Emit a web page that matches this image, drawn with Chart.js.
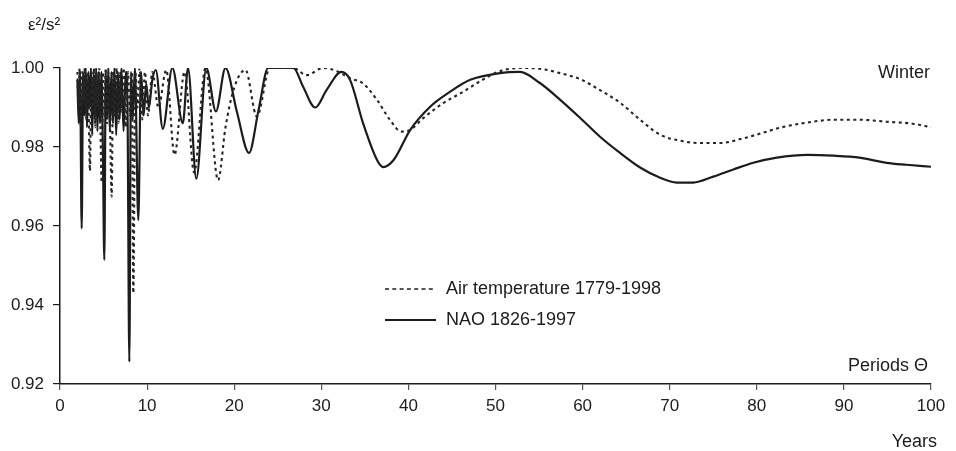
<!DOCTYPE html>
<html>
<head>
<meta charset="utf-8">
<script src="https://cdn.jsdelivr.net/npm/chart.js@4/dist/chart.umd.min.js"></script>
<style>
  html, body { margin: 0; padding: 0; background: #ffffff; }
  #wrap { width: 956px; height: 451px; }
</style>
</head>
<body>
<div id="wrap"><canvas id="c" width="956" height="451"></canvas></div>
<script>
// ---- Data ----
const xTicks = [0, 10, 20, 30, 40, 50, 60, 70, 80, 90, 100];
const yTicks = [0.92, 0.94, 0.96, 0.98, 1.00];

const naoLabel = "NAO 1826-1997";
const naoPeriods = [
  2.0, 2.15, 2.3, 2.49, 2.65, 2.8, 2.95, 3.1, 3.25, 3.4,
  3.55, 3.7, 3.85, 4.0, 4.15, 4.3, 4.45, 4.6, 4.75, 4.92,
  5.09, 5.25, 5.4, 5.55, 5.72, 5.9, 6.08, 6.25, 6.45, 6.65,
  6.85, 7.05, 7.3, 7.55, 7.75, 7.96, 8.15, 8.35, 8.6, 8.99,
  9.3, 9.6, 9.9, 10.2, 10.6, 11.0, 11.8, 12.9, 14.1, 14.7,
  15.65, 16.8, 17.9, 19.0, 20.3, 21.7, 22.8, 23.9, 25.2, 26.8,
  27.9, 29.3, 30.6, 32.3, 33.3, 34.8, 36.4, 37.1, 38.3, 40.2,
  42.5, 44.8, 47.1, 50.5, 52.8, 55.1, 57.4, 59.7, 62.0, 64.3,
  66.6, 68.9, 70.8, 72.7, 75.0, 77.3, 79.6, 82.3, 85.8, 88.8,
  91.8, 94.9, 97.2, 100
];
const naoValues = [
  0.997, 0.986, 0.999, 0.9594, 0.999, 0.988, 1.0, 0.985, 0.999, 0.990,
  1.0, 0.983, 0.999, 0.987, 1.0, 0.984, 0.999, 0.986, 0.999, 0.980,
  0.9514, 0.999, 0.987, 1.0, 0.984, 0.999, 0.986, 1.0, 0.983, 0.999,
  0.987, 1.0, 0.984, 0.999, 0.990, 0.9256, 0.999, 0.987, 1.0, 0.9615,
  0.999, 0.988, 0.996, 0.990, 0.997, 0.9995, 0.9846, 1.0, 0.986, 1.0,
  0.972, 1.0, 0.989, 1.0, 0.989, 0.9785, 0.9894, 1.0, 1.0, 1.0,
  0.9953, 0.990, 0.9944, 0.999, 0.997, 0.986, 0.9767, 0.9749, 0.9767, 0.9843,
  0.9902, 0.994, 0.997, 0.9987, 0.999, 0.9962, 0.992, 0.9874, 0.9826, 0.9785,
  0.9748, 0.9722, 0.971, 0.971, 0.9725, 0.9743, 0.976, 0.9773, 0.978, 0.9778,
  0.9773, 0.976, 0.9755, 0.975
];

const airLabel = "Air temperature 1779-1998";
const airPeriods = [
  2.0, 2.12, 2.25, 2.4, 2.55, 2.7, 2.85, 3.0, 3.15, 3.3,
  3.44, 3.6, 3.75, 3.9, 4.05, 4.2, 4.35, 4.5, 4.65, 4.78,
  4.95, 5.1, 5.25, 5.4, 5.55, 5.75, 5.93, 6.1, 6.3, 6.5,
  6.7, 6.9, 7.1, 7.3, 7.55, 7.8, 8.05, 8.25, 8.42, 8.65,
  8.9, 9.15, 9.45, 9.75, 10.1, 10.6, 11.3, 12.2, 13.15, 14.3,
  15.4, 16.7, 18.15, 19.0, 20.0, 21.3, 22.6, 24.1, 26.8, 28.3,
  30.2, 31.8, 33.3, 34.8, 36.4, 37.9, 39.2, 40.2, 41.7, 44.0,
  46.3, 48.5, 50.5, 52.8, 55.1, 57.4, 59.7, 62.0, 64.3, 66.6,
  68.9, 71.2, 73.5, 75.8, 78.1, 80.4, 82.7, 85.8, 88.8, 91.8,
  94.9, 97.9, 100
];
const airValues = [
  0.999, 0.990, 1.0, 0.985, 0.999, 0.991, 1.0, 0.987, 0.999, 0.988,
  0.974, 0.999, 0.989, 1.0, 0.985, 0.999, 0.990, 1.0, 0.984, 0.971,
  0.999, 0.988, 1.0, 0.986, 0.999, 0.985, 0.9674, 0.999, 0.988, 1.0,
  0.986, 0.999, 0.989, 1.0, 0.985, 0.999, 0.988, 0.999, 0.943, 0.999,
  0.990, 1.0, 0.987, 0.999, 0.988, 0.999, 0.990, 0.9995, 0.978, 0.999,
  0.9735, 1.0, 0.9716, 0.985, 0.995, 0.9995, 0.9877, 1.0, 1.0, 0.9982,
  1.0, 0.9992, 0.9974, 0.9961, 0.9919, 0.9868, 0.9839, 0.9843, 0.9873, 0.9911,
  0.994, 0.997, 0.9992, 1.0, 0.9998, 0.9987, 0.9972, 0.9944, 0.9912, 0.9869,
  0.9831, 0.9816, 0.981, 0.981, 0.982, 0.9834, 0.9849, 0.9862, 0.9869, 0.9869,
  0.9864, 0.9859, 0.985
];

const yAxisTitle = "ε²/s²";
const seasonText = "Winter";
const xAxisNote = "Periods Θ";
const xAxisTitle = "Years";

// ---- Build chart ----
const FONT = '"Liberation Sans", Arial, sans-serif';
const INK = '#1c1c1c';

function pts(xs, ys) { return xs.map((x, i) => ({ x: x, y: ys[i] })); }

const textPlugin = {
  id: 'texts',
  afterDraw(chart) {
    const ctx = chart.ctx;
    ctx.save();
    ctx.fillStyle = INK;
    ctx.textBaseline = 'alphabetic';
    // y axis title
    ctx.font = '17px ' + FONT;
    ctx.textAlign = 'left';
    ctx.fillText(yAxisTitle, 28, 30);
    // annotations
    ctx.font = '18px ' + FONT;
    ctx.textAlign = 'right';
    ctx.fillText(seasonText, 930, 78);
    ctx.fillText(xAxisNote, 928, 371);
    ctx.fillText(xAxisTitle, 937, 447);
    // legend
    const ds = chart.data.datasets;
    const rows = [ {d: ds[0], y: 289}, {d: ds[1], y: 320} ];
    rows.forEach(r => {
      ctx.beginPath();
      ctx.strokeStyle = INK;
      ctx.lineWidth = r.d.borderDash.length ? 1.6 : 2;
      ctx.setLineDash(r.d.borderDash.length ? [4, 3.3] : []);
      ctx.moveTo(385, r.y);
      ctx.lineTo(436, r.y);
      ctx.stroke();
      ctx.setLineDash([]);
      ctx.textAlign = 'left';
      ctx.textBaseline = 'middle';
      ctx.fillText(r.d.label, 446, r.y);
    });
    ctx.restore();
  }
};

new Chart(document.getElementById('c'), {
  type: 'line',
  data: {
    datasets: [
      {
        label: airLabel,
        data: pts(airPeriods, airValues),
        borderColor: '#262626',
        borderWidth: 2.1,
        borderDash: [3, 3.5],
        pointRadius: 0,
        fill: false,
        cubicInterpolationMode: 'monotone'
      },
      {
        label: naoLabel,
        data: pts(naoPeriods, naoValues),
        borderColor: INK,
        borderWidth: 2.2,
        borderDash: [],
        pointRadius: 0,
        fill: false,
        cubicInterpolationMode: 'monotone'
      }
    ]
  },
  options: {
    responsive: false,
    animation: false,
    devicePixelRatio: 1,
    layout: { padding: { left: 0, top: 68, right: 25, bottom: 0 } },
    plugins: { legend: { display: false }, tooltip: { enabled: false } },
    scales: {
      x: {
        type: 'linear',
        min: 0, max: 100,
        afterBuildTicks: (s) => { s.ticks = xTicks.map(v => ({ value: v })); },
        afterFit: (s) => { s.height = 67; },
        grid: { drawOnChartArea: false, drawTicks: true, tickLength: 6, color: '#555', lineWidth: 1.2 },
        border: { display: true, color: INK, width: 1.5 },
        ticks: { color: INK, font: { family: FONT, size: 17 }, padding: 6, maxRotation: 0 }
      },
      y: {
        type: 'linear',
        min: 0.92, max: 1.0,
        afterBuildTicks: (s) => { s.ticks = yTicks.map(v => ({ value: v })); },
        afterFit: (s) => { s.width = 60; },
        grid: { drawOnChartArea: false, drawTicks: true, tickLength: 7, color: INK, lineWidth: 1.2 },
        border: { display: true, color: INK, width: 1.5 },
        ticks: { color: INK, font: { family: FONT, size: 17 }, padding: 9,
                  callback: (v) => Number(v).toFixed(2) }
      }
    }
  },
  plugins: [textPlugin]
});
</script>
</body>
</html>
